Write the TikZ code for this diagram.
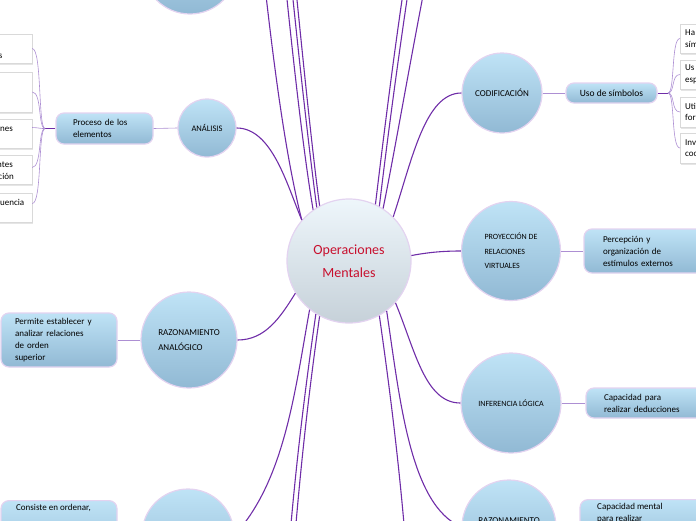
\documentclass[tikz,border=0pt]{standalone}
\usepackage{fontspec}
\setmainfont{Carlito}
\usetikzlibrary{shadows}
\definecolor{rimlila}{HTML}{E3D3F0}
\definecolor{skytop}{HTML}{BFE3F6}
\definecolor{skybot}{HTML}{91B9D4}
\definecolor{hubtop}{HTML}{EEF6FB}
\definecolor{hubbot}{HTML}{C6D1D9}
\definecolor{hubred}{HTML}{C8102E}
\definecolor{linkpurple}{HTML}{6F2DA8}
\definecolor{twiglila}{HTML}{AD8FD3}

\begin{document}
\begin{tikzpicture}[x=1pt, y=-1pt,
  hub/.style={circle, draw=rimlila, line width=1.2pt, top color=hubtop, bottom color=hubbot,
    minimum size=124pt, inner sep=0pt, align=center, text=hubred, font=\fontsize{14}{23}\selectfont},
  idea/.style={circle, draw=rimlila, line width=1.2pt, top color=skytop, bottom color=skybot,
    inner sep=0pt, align=left, font=\fontsize{8}{14.5}\selectfont},
  note/.style={draw=rimlila, line width=1.2pt, rounded corners=8pt, top color=skytop, bottom color=skybot,
    align=left, font=\fontsize{9}{12}\selectfont},
  card/.style={draw=black!15, fill=white, drop shadow={shadow xshift=1pt, shadow yshift=-1.5pt, fill=black!20},
    inner xsep=5pt, inner ysep=0pt, align=left, font=\fontsize{9}{11.5}\selectfont},
  frag/.style={inner sep=0pt, font=\fontsize{9}{11.5}\selectfont},
  link/.style={draw=linkpurple, line width=1.1pt},
  twig/.style={draw=twiglila, line width=0.6pt},
  stem/.style={draw=linkpurple, line width=0.8pt}]
% canvas
\useasboundingbox (0,0) rectangle (696,520);
\clip (0,0) rectangle (696,520);
% centre
\node[hub] (cen) at (349,261) {Operaciones\\Mentales};
% circles cut by the edges
\node[idea, minimum size=94pt] (tc) at (190,-33) {};
\node[idea, minimum size=92pt] (bl) at (188,535) {};
% analisis + its cards
\node[idea, minimum size=58pt, align=center, font=\fontsize{8.5}{12}\selectfont] (ana) at (207,128) {ANÁLISIS};
\node[note, inner xsep=17pt, text width=63pt, minimum height=31pt] (proc) at (104.5,128.5) {Proceso de los\\elementos};
\node[card, minimum width=132pt, minimum height=29pt] (wa) at (-34,48.5) {};
\node[card, minimum width=132pt, minimum height=40pt] (wb) at (-34,92) {};
\node[card, minimum width=132pt, minimum height=29pt] (wc) at (-34,133.5) {};
\node[card, minimum width=132pt, minimum height=29pt] (wd) at (-34,169.5) {};
\node[card, minimum width=132pt, minimum height=29pt] (we) at (-34,207.5) {};
\node[frag, anchor=base east] (fa) at (2.5,58) {s};
\node[frag, anchor=base east] (fc) at (13,131) {nes};
\node[frag, anchor=base east] (fd) at (13,167) {ntes};
\node[frag, anchor=base east] (fd2) at (14,179) {ción};
\node[frag, anchor=base east] (fe) at (24.5,205) {uencia};
\coordinate (lsplit) at (45,128.5);
% codificacion + its cards
\node[idea, minimum size=80pt, align=center, font=\fontsize{9}{12}\selectfont] (cod) at (502,93) {CODIFICACIÓN};
\node[note, minimum width=91pt, minimum height=20pt, align=center, font=\fontsize{9.5}{12}\selectfont] (uso) at (611.5,93) {Uso de símbolos};
\node[card, anchor=west, text width=110pt, minimum height=29pt] (wh) at (680,38.5) {Ha\\sím};
\node[card, anchor=west, text width=110pt, minimum height=29pt] (wu) at (680,74.5) {Us\\esp};
\node[card, anchor=west, text width=110pt, minimum height=30pt] (wt) at (680,112) {Uti\\for};
\node[card, anchor=west, text width=110pt, minimum height=30pt] (wi) at (680,148) {Inv\\coo};
\coordinate (rsplit) at (668,93);
% right column
\node[idea, minimum size=99pt] (proy) at (511,251) {PROYECCIÓN DE\\RELACIONES\\VIRTUALES};
\node[note, inner xsep=19pt, text width=98pt, minimum height=44pt] (perc) at (652,251) {Percepción y\\organización de\\estímulos externos};
\node[idea, minimum size=100pt, align=center] (inf) at (511,403) {INFERENCIA LÓGICA};
\node[note, inner xsep=18pt, text width=98pt, minimum height=30pt] (capa) at (653,403) {Capacidad para\\realizar deducciones};
\node[idea, minimum size=94pt] (rz) at (509,527) {};
\node[frag, anchor=base, font=\fontsize{9}{14.5}\selectfont] (rzt) at (509,523) {RAZONAMIENTO};
\node[note, anchor=north, minimum width=134pt, minimum height=56pt] (capm) at (647,499) {};
\node[frag, anchor=north west, align=left, font=\fontsize{9}{12}\selectfont] (capmt) at (597,503) {Capacidad mental\\para realizar};
% left column
\node[idea, minimum size=96pt, font=\fontsize{9}{15}\selectfont] (ranal) at (189,340) {RAZONAMIENTO\\ANALÓGICO};
\node[note, inner xsep=14pt, text width=88pt, minimum height=54pt] (perm) at (59,340) {Permite establecer y\\analizar relaciones\\de orden\\superior};
\node[note, anchor=north, minimum width=116pt, minimum height=70pt] (cons) at (59,500) {};
\node[frag, anchor=north west, font=\fontsize{9}{12}\selectfont] (const) at (16,504) {Consiste en ordenar,};
% free ends outside the frame
\coordinate (upA) at (262,-40);
\coordinate (upB) at (283,-40);
\coordinate (upC) at (289,-40);
\coordinate (upD) at (293,-40);
\coordinate (upE) at (408,-40);
\coordinate (upF) at (413,-40);
\coordinate (upG) at (430,-40);
\coordinate (dnA) at (288,560);
\coordinate (dnB) at (293,560);
\coordinate (dnC) at (407,560);
% main branches
\draw[link] (cen.139) .. controls (287,185) and (272,128) .. (ana.east);
\draw[link] (cen.139) .. controls (284,150) and (272,50) .. (upA);
\draw[link] (cen.125) .. controls (303,150) and (292,50) .. (upB);
\draw[link] (cen.121) .. controls (309,150) and (298,50) .. (upC);
\draw[link] (cen.118) .. controls (312,150) and (302,50) .. (upD);
\draw[link] (cen.65) .. controls (382,150) and (394,50) .. (upE);
\draw[link] (cen.61) .. controls (386,150) and (399,50) .. (upF);
\draw[link] (cen.57) .. controls (395,150) and (412,50) .. (upG);
\draw[link] (cen.45) .. controls (412,160) and (425,93) .. (cod.west);
\draw[link] (cen.5) .. controls (430,252) and (445,251) .. (proy.west);
\draw[link] (cen.-42) .. controls (415,350) and (425,403) .. (inf.west);
\draw[link] (cen.-53) .. controls (400,400) and (410,505) .. (rz.west);
\draw[link] (cen.-61) .. controls (390,390) and (400,470) .. (dnC);
\draw[link] (cen.238) .. controls (305,390) and (295,470) .. (dnA);
\draw[link] (cen.242) .. controls (309,390) and (300,470) .. (dnB);
\draw[link] (cen.231) .. controls (295,390) and (285,480) .. (bl.east);
\draw[link] (cen.211) .. controls (280,318) and (265,340) .. (ranal.east);
% thin links
\draw[twig] (ana.west) -- (proc.east);
\draw[twig] (cod.east) -- (uso.west);
\draw[twig] (proy.east) -- (perc.west);
\draw[twig] (inf.east) -- (capa.west);
\draw[twig] (rz.east) -- (capm.west);
\draw[twig] (ranal.west) -- (perm.east);
\draw[twig] (bl.west) -- (cons.east);
\draw[stem] (proc.west) -- (lsplit);
\draw[stem] (uso.east) -- (rsplit);
\draw[twig] (lsplit) .. controls (38,128.5) and (42,49) .. (wa.east);
\draw[twig] (lsplit) .. controls (38,128.5) and (42,92) .. (wb.east);
\draw[twig] (lsplit) .. controls (38,128.5) and (42,128) .. ([yshift=6pt]wc.east);
\draw[twig] (lsplit) .. controls (38,128.5) and (42,167) .. ([yshift=2pt]wd.east);
\draw[twig] (lsplit) .. controls (38,128.5) and (42,204) .. ([yshift=4pt]we.east);
\draw[twig] (rsplit) .. controls (675,93) and (671,38.5) .. (wh.west);
\draw[twig] (rsplit) .. controls (675,93) and (671,74.5) .. (wu.west);
\draw[twig] (rsplit) .. controls (675,93) and (671,112) .. (wt.west);
\draw[twig] (rsplit) .. controls (675,93) and (671,148) .. (wi.west);
\end{tikzpicture}
\end{document}
